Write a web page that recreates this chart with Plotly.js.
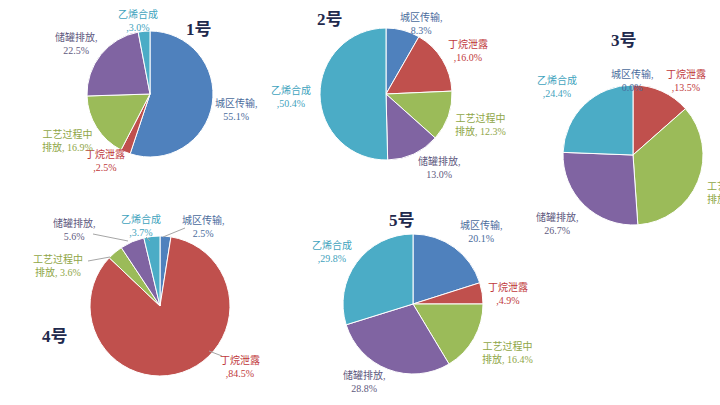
<!DOCTYPE html>
<html><head><meta charset="utf-8">
<script src="https://cdn.plot.ly/plotly-3.0.1.min.js"></script>
<style>html,body{margin:0;padding:0;background:#fff}#c{width:720px;height:405px}</style>
</head><body><div id="c"></div>
<script>
// Data
const categories = ["城区传输", "丁烷泄露", "工艺过程中排放", "储罐排放", "乙烯合成"];
const chartTitles = ["1号", "2号", "3号", "4号", "5号"];
const site1 = [55.1, 2.5, 16.9, 22.5, 3.0];
const site2 = [8.3, 16.0, 12.3, 13.0, 50.4];
const site3 = [0.0, 13.5, 35.4, 26.7, 24.4];
const site4 = [2.5, 84.5, 3.6, 5.6, 3.7];
const site5 = [20.1, 4.9, 16.4, 28.8, 29.8];
const sites = [site1, site2, site3, site4, site5];

// Styling / layout (pixels)
const W = 720, H = 405;
const sliceColors = ["#4F81BD", "#C0504D", "#9BBB59", "#8064A2", "#4BACC6"];
const labelColors = ["#4A6B9C", "#C0393B", "#8FA647", "#615A80", "#3FA3BD"];
const pieGeom = [[150, 94, 63], [386, 94, 66], [633, 155, 70], [160, 306, 70], [413, 304, 70]];
const titlePos = [[199, 29], [330, 19], [624, 41], [55, 336], [402, 220]];
// label centre positions [x, y, anchor] per chart per category
const labelPos = [
  [[236, 109], [105, 161], [67, 141], [76, 43], [138, 21]],
  [[421, 24], [468, 50], [481, 124], [439, 168], [291, 96]],
  [[632, 81], [686, 80], [705, 192, "left"], [557, 224], [557, 87]],
  [[203, 226], [240, 366], [58, 265], [74, 229], [141, 225]],
  [[482, 231], [508, 293], [507, 352], [364, 381], [332, 251]]
];
const leaderLines = [
  [93, 234, 128, 241], [146, 237, 150, 241], [185, 228, 163, 237],
  [88, 261, 110, 257], [222, 356, 209, 351]
];

function labelText(ci, v) {
  const s = v.toFixed(1) + "%";
  switch (ci) {
    case 0: return categories[0] + ",<br>" + s;
    case 1: return categories[1] + "<br>," + s;
    case 2: return "工艺过程中<br>排放, " + s;
    case 3: return categories[3] + ",<br>" + s;
    default: return categories[4] + "<br>," + s;
  }
}

const traces = sites.map((vals, i) => {
  const [cx, cy, r] = pieGeom[i];
  return {
    type: "pie", values: vals, labels: categories, sort: false,
    direction: "clockwise", rotation: 0, textinfo: "none", hoverinfo: "skip",
    marker: { colors: sliceColors, line: { color: "#ffffff", width: 1 } },
    domain: { x: [(cx - r) / W, (cx + r) / W], y: [1 - (cy + r) / H, 1 - (cy - r) / H] },
    showlegend: false
  };
});

const annotations = [];
sites.forEach((vals, i) => {
  annotations.push({
    text: "<b>" + chartTitles[i] + "</b>", xref: "paper", yref: "paper",
    x: titlePos[i][0] / W, y: 1 - titlePos[i][1] / H, xanchor: "center", yanchor: "middle",
    showarrow: false, font: { family: "Liberation Serif, Noto Sans CJK SC", size: 17, color: "#1F2A4D" }
  });
  vals.forEach((v, ci) => {
    const p = labelPos[i][ci];
    const left = p[2] === "left";
    annotations.push({
      text: labelText(ci, v), xref: "paper", yref: "paper",
      x: p[0] / W, y: 1 - p[1] / H, xanchor: left ? "left" : "center", yanchor: "middle",
      align: left ? "left" : "center", showarrow: false,
      font: { family: "Liberation Serif, Noto Sans CJK SC", size: 10, color: labelColors[ci] }
    });
  });
});

const shapes = leaderLines.map(l => ({
  type: "line", xref: "paper", yref: "paper",
  x0: l[0] / W, y0: 1 - l[1] / H, x1: l[2] / W, y1: 1 - l[3] / H,
  line: { color: "#A6A6A6", width: 1 }
}));

Plotly.newPlot("c", traces, {
  width: W, height: H, margin: { l: 0, r: 0, t: 0, b: 0 },
  paper_bgcolor: "#ffffff", annotations: annotations, shapes: shapes
}, { displayModeBar: false, staticPlot: true });
</script></body></html>
